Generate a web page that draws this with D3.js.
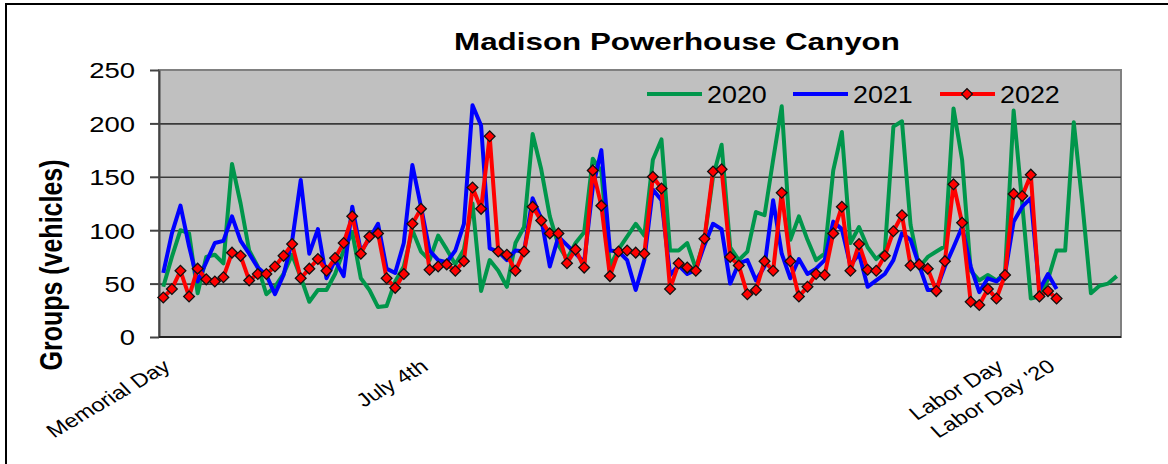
<!DOCTYPE html>
<html>
<head>
<meta charset="utf-8">
<script src="https://cdn.jsdelivr.net/npm/d3@7"></script>
<style>
  html, body { margin: 0; background: #fff; overflow: hidden; }
  svg { display: block; font-family: "Liberation Sans", Arial, sans-serif; }
</style>
</head>
<body>
<script>
// daily counts, one value per category (day), Memorial Day week -> past Labor Day
var v2020 = [47,75,100,97,41,75,77,69,162,125,81,66,40,47,59,77,56,33,44,44,
  59,81,98,55,44,28,29,52,66,100,80,72,95,82,68,82,125,43,72,62,
  47,88,103,190,157,113,86,73,88,98,167,155,66,82,94,106,95,166,185,81,
  81,88,64,91,150,180,84,72,80,117,114,166,216,91,113,91,72,78,156,192,
  88,103,84,73,80,197,202,105,65,75,80,85,214,166,62,53,58,53,60,212,
  125,36,38,54,81,81,201,125,41,48,50,57]
var v2021 = [60,97,123,85,52,70,88,90,113,90,78,65,58,40,58,90,147,78,101,55,
  72,57,122,80,92,106,64,60,88,161,122,81,72,70,81,106,217,198,83,80,
  72,81,80,130,111,66,94,86,78,70,140,175,81,80,72,44,72,138,128,58,
  67,59,63,86,106,101,50,69,72,53,66,128,78,55,73,59,64,72,108,101,
  67,78,47,53,59,72,97,91,67,44,44,66,84,103,66,42,55,52,59,108,
  122,130,44,59,45]
var v2022 = [37,45,62,38,64,54,52,56,79,76,53,59,59,66,76,87,55,64,73,62,
  74,88,113,78,94,97,55,46,59,106,120,63,66,68,62,71,140,120,188,80,
  77,62,80,122,109,97,97,69,82,65,156,123,57,80,81,79,78,150,139,45,
  69,65,62,92,155,157,75,67,40,44,71,62,135,71,38,47,59,58,97,122,
  62,87,63,62,76,99,114,67,68,64,43,71,143,107,33,30,45,36,58,134,
  132,152,38,43,36]

var seriesNames = ['2020', '2021', '2022']
var seriesColors = ['#00964B', '#0000FF', '#FF0000']

var nDays = 112
var xLabels = ['Memorial Day', 'July 4th', 'Labor Day', "Labor Day '20"]
var xLabelDay = [1, 31, 98, 104]
var yTicks = [0, 50, 100, 150, 200, 250]

var W = 1168, H = 464
var plot = {left: 159, right: 1121, top: 70, bottom: 337}
var stretch = 1.25   // the picture is wider than it is tall, text too

var svg = d3.select('body').append('svg')
  .attr('width', W)
  .attr('height', H)

// outer frame (runs off the right and bottom)
svg.append('path')
  .attr('d', 'M6,' + H + 'V4H' + W)
  .attr('fill', 'none')
  .attr('stroke', '#000')
  .attr('stroke-width', 2)

var x = d3.scaleLinear().domain([0, nDays]).range([plot.left, plot.right])
var y = d3.scaleLinear().domain([0, 250]).range([plot.bottom, plot.top])
function cx(d, i) { return x(i + 0.5) }

// plot area
svg.append('rect')
  .attr('x', plot.left).attr('y', plot.top)
  .attr('width', plot.right - plot.left)
  .attr('height', plot.bottom - plot.top)
  .attr('fill', '#C0C0C0')
  .attr('stroke', '#808080')
  .attr('stroke-width', 2)

// gridlines
var grid = svg.append('g')
  .attr('transform', 'translate(' + plot.left + ',0)')
  .call(d3.axisLeft(y).tickValues([50, 100, 150, 200]).tickSize(-(plot.right - plot.left)).tickFormat(''))
grid.select('.domain').remove()
grid.selectAll('line').attr('stroke', '#3a3a3a').attr('stroke-width', 1.6)

// y axis
var yAxis = svg.append('g')
  .attr('transform', 'translate(' + plot.left + ',0)')
  .call(d3.axisLeft(y).tickValues(yTicks).tickSize(9).tickSizeOuter(0))
yAxis.select('.domain').attr('stroke', '#444').attr('stroke-width', 2)
yAxis.selectAll('line').attr('stroke', '#444').attr('stroke-width', 2)
yAxis.selectAll('text')
  .attr('x', null).attr('dy', '0.36em')
  .attr('transform', 'translate(-24,0) scale(' + stretch + ',1)')
  .attr('fill', '#000')
  .style('font-size', '22px')
  .style('font-family', '"Liberation Sans", Arial, sans-serif')

// x axis line
svg.append('line')
  .attr('x1', plot.left).attr('x2', plot.right)
  .attr('y1', plot.bottom).attr('y2', plot.bottom)
  .attr('stroke', '#222').attr('stroke-width', 2)

// x labels (rotated), anchored at the end of the baseline
svg.append('g').selectAll('text')
  .data(xLabels)
  .enter().append('text')
  .attr('transform', function(d, i) {
    return 'translate(' + x(xLabelDay[i] + 0.5) + ',369) scale(' + stretch + ',1) rotate(-36.4)'
  })
  .attr('text-anchor', 'end')
  .style('font-size', '19px')
  .text(function(d) { return d })

// title
svg.append('text')
  .attr('transform', 'translate(677,50) scale(1.28,1)')
  .attr('text-anchor', 'middle')
  .style('font-size', '24.5px')
  .style('font-weight', 'bold')
  .text('Madison Powerhouse Canyon')

// y title
svg.append('text')
  .attr('transform', 'translate(62,265) scale(' + stretch + ',1) rotate(-90)')
  .attr('text-anchor', 'middle')
  .style('font-size', '25px')
  .style('font-weight', 'bold')
  .text('Groups (vehicles)')

// lines
var line = d3.line()
  .x(cx)
  .y(function(d) { return y(d) })

var allSeries = [v2020, v2021, v2022]
allSeries.forEach(function(s, k) {
  svg.append('path')
    .datum(s)
    .attr('fill', 'none')
    .attr('stroke', seriesColors[k])
    .attr('stroke-width', 4)
    .attr('stroke-linejoin', 'round')
    .attr('d', line)
})

// 2022 diamond markers
var diamond = d3.symbol().type(d3.symbolSquare).size(58)
svg.append('g').selectAll('path')
  .data(v2022)
  .enter().append('path')
  .attr('transform', function(d, i) { return 'translate(' + cx(d, i) + ',' + y(d) + ') rotate(45)' })
  .attr('d', diamond)
  .attr('fill', '#FF0000')
  .attr('stroke', '#111')
  .attr('stroke-width', 1.3)

// legend
var legX = [647, 793, 940]
var legend = svg.append('g')
seriesNames.forEach(function(name, k) {
  legend.append('line')
    .attr('x1', legX[k]).attr('x2', legX[k] + 55)
    .attr('y1', 94).attr('y2', 94)
    .attr('stroke', seriesColors[k])
    .attr('stroke-width', 4)
  if (k === 2) {
    legend.append('path')
      .attr('transform', 'translate(' + (legX[k] + 27) + ',94) rotate(45)')
      .attr('d', diamond)
      .attr('fill', '#FF0000')
      .attr('stroke', '#111')
      .attr('stroke-width', 1.3)
  }
  legend.append('text')
    .attr('transform', 'translate(' + (legX[k] + 60) + ',103) scale(1.12,1)')
    .style('font-size', '24px')
    .text(name)
})
</script>
</body>
</html>
